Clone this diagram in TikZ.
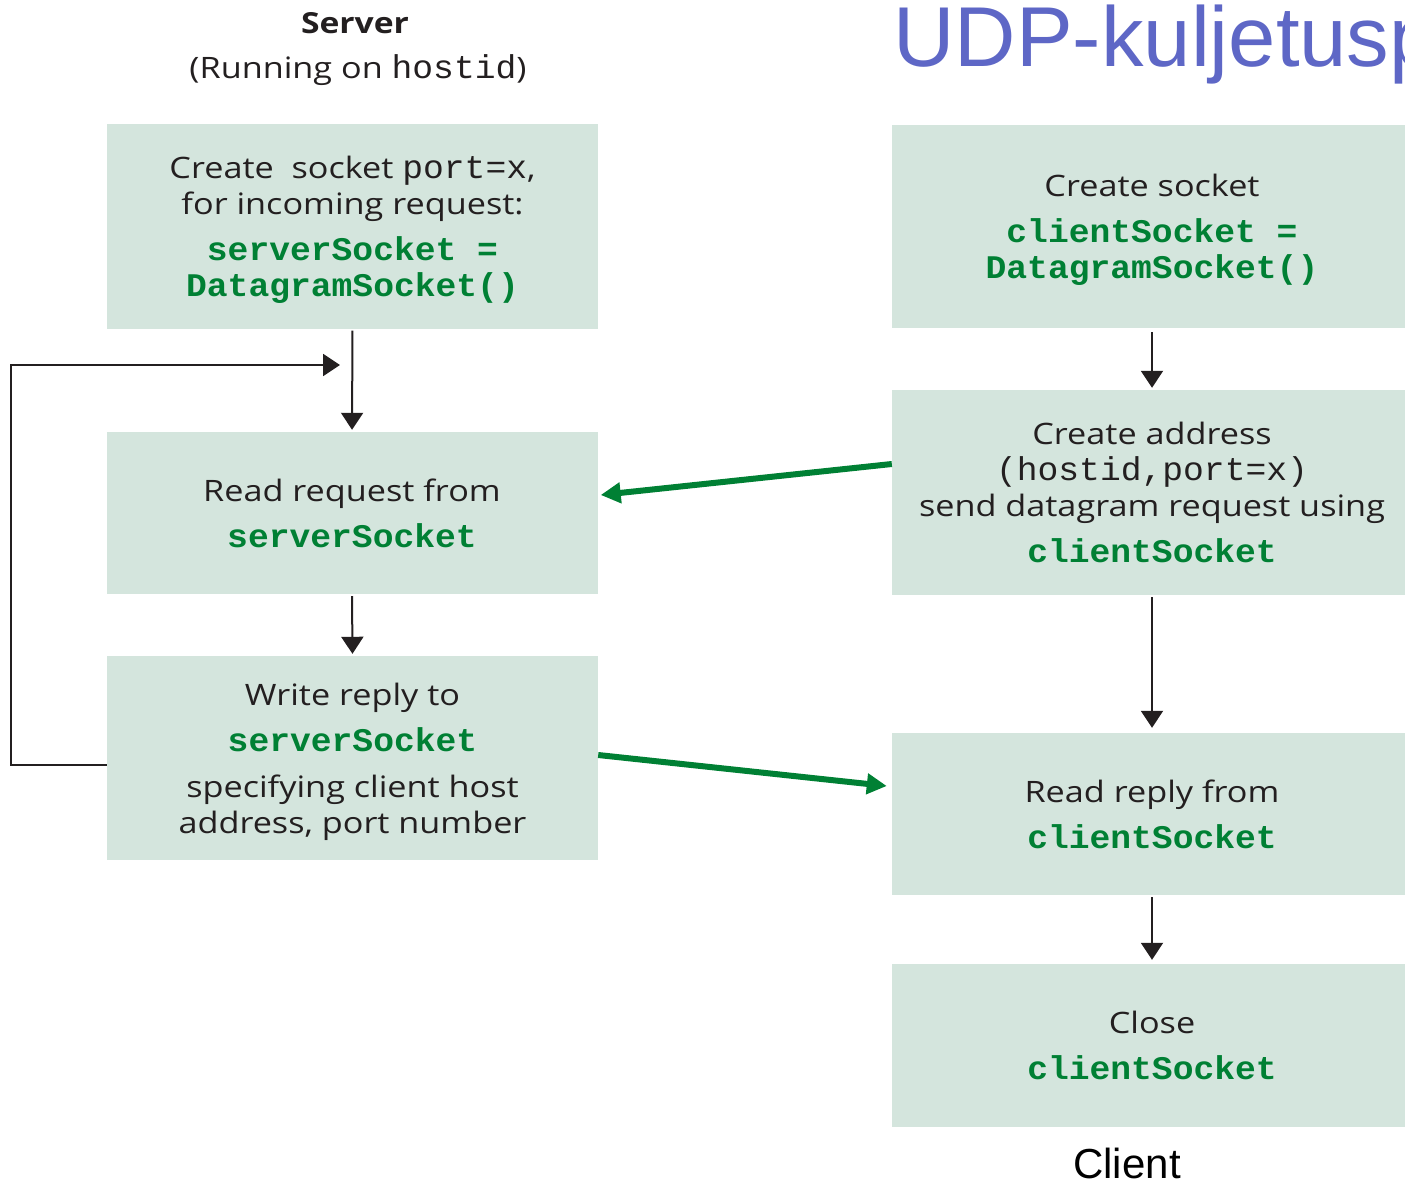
\documentclass[tikz,border=0pt]{standalone}
\usepackage{fontspec}
\setmainfont[FakeStretch=1.16]{Open Sans}
\newfontfamily\codefont[FakeStretch=1.05]{Liberation Mono}
\newfontfamily\slidefont{Liberation Sans}
\usetikzlibrary{arrows.meta,positioning}

\definecolor{boxfill}{RGB}{212,229,221}
\definecolor{codegreen}{RGB}{0,128,52}
\definecolor{titleblue}{RGB}{94,103,198}
\definecolor{inkgray}{RGB}{35,31,32}

\newcommand{\code}[1]{{\codefont\bfseries\fontsize{33}{36}\selectfont\color{codegreen}#1}}
\newcommand{\addr}[1]{{\codefont\fontsize{33}{36}\selectfont #1}}

\begin{document}
\begin{tikzpicture}[x=1pt,y=-1pt]
\tikzset{
  stepbox/.style={rectangle,fill=boxfill,inner sep=0pt,align=center,text depth=0pt,text=inkgray,font=\fontsize{29.5}{36}\selectfont},
  serverbox/.style={stepbox,minimum width=491pt},
  clientbox/.style={stepbox,minimum width=520pt},
  flow/.style={draw=inkgray,line width=2pt,-{Triangle[length=17pt,width=22pt]}},
  datagram/.style={draw=codegreen,line width=6pt,-{Triangle[length=20pt,width=20pt]}}
}
\clip (0,0) rectangle (1405,1185);
% headings
\node[text=inkgray,font=\bfseries\fontsize{29}{34}\selectfont] (srv_title) at (355,23) {Server};
\node[text=inkgray,font=\fontsize{29.5}{34}\selectfont] (srv_host) at (358,70) {(Running on \addr{hostid})};
\node[anchor=base west,text=titleblue,font=\slidefont\fontsize{85}{90}\selectfont] (slide_title) at (890,67) {UDP-kuljetusp};
\node[anchor=base,text=black,font=\slidefont\fontsize{42}{46}\selectfont] (client_label) at (1127,1178) {Client};
% server side
\node[serverbox,minimum height=204pt] (s_create) at (352.5,226.5)
  {Create\ \ socket \addr{port=x},\\ for incoming request:\\[10pt] \code{serverSocket =}\\ \code{DatagramSocket()}};
\node[serverbox,minimum height=162pt] (s_read) at (352,513)
  {Read request from\\[10pt] \code{serverSocket}};
\node[serverbox,minimum height=204pt] (s_write) at (352.5,758)
  {Write reply to\\[10pt] \code{serverSocket}\\[10pt] specifying client host\\ address, port number};
% client side
\node[clientbox,minimum height=203pt] (c_create) at (1152,226.5)
  {Create socket\\[10pt] \code{clientSocket =}\\ \code{DatagramSocket()}};
\node[clientbox,minimum height=205pt] (c_send) at (1152,492.5)
  {Create address\\ \addr{(hostid,port=x)}\\ send datagram request using\\[10pt] \code{clientSocket}};
\node[clientbox,minimum height=162pt] (c_read) at (1152,814)
  {Read reply from\\[10pt] \code{clientSocket}};
\node[clientbox,minimum height=163pt] (c_close) at (1152,1045.5)
  {Close\\[10pt] \code{clientSocket}};
\coordinate (loop_in) at (340,365);
% connectors
\draw[flow,shorten <=2pt,shorten >=2pt] (s_create.south) -- (s_read.north);
\draw[flow,shorten <=2pt,shorten >=2pt] (s_read.south) -- (s_write.north);
\draw[flow] ([yshift=-7pt]s_write.west) -- ++(-96,0) |- (loop_in);
\draw[flow,shorten <=4pt,shorten >=2pt] (c_create.south) -- (c_send.north);
\draw[flow,shorten <=2pt,shorten >=5pt] (c_send.south) -- (c_read.north);
\draw[flow,shorten <=2pt,shorten >=4pt] (c_read.south) -- (c_close.north);
\draw[datagram] ([yshift=28.5pt]c_send.west) -- ([xshift=3pt,yshift=18pt]s_read.east);
\draw[datagram] ([yshift=3pt]s_write.east) -- ([xshift=-5pt,yshift=28pt]c_read.west);
\end{tikzpicture}
\end{document}
